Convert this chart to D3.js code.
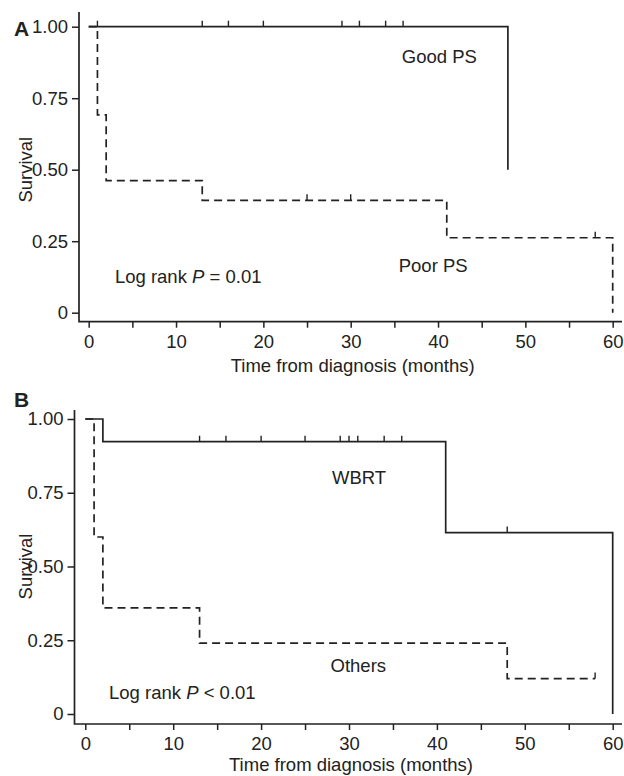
<!DOCTYPE html>
<html>
<head>
<meta charset="utf-8">
<script src="https://cdn.jsdelivr.net/npm/d3@7"></script>
<style>
  html, body { margin: 0; padding: 0; background: #fff; }
  svg text { font-family: "Liberation Sans", Arial, Helvetica, sans-serif; fill: #222; }
</style>
</head>
<body>
<div id="chart"></div>
<script>
// ---- data ----
const xTicks = [0, 5, 10, 15, 20, 25, 30, 35, 40, 45, 50, 55, 60];
const yTicks = [0, 0.25, 0.5, 0.75, 1];
const yTickLabels = ["0", "0.25", "0.50", "0.75", "1.00"];

// panel A: performance status
const goodPsTimes = [0, 48];
const goodPsSurv = [1, 0.5];
const goodPsCensor = [1, 13, 16, 20, 29, 31, 34, 36];
const poorPsTimes = [0, 1, 2, 13, 41, 60];
const poorPsSurv = [1, 0.692, 0.462, 0.393, 0.262, 0];
const poorPsCensor = [25, 30, 58];

// panel B: WBRT vs others
const wbrtTimes = [0, 2, 41, 60];
const wbrtSurv = [1, 0.923, 0.615, 0];
const wbrtCensor = [13, 16, 20, 25, 29, 30, 31, 34, 36, 48];
const othersTimes = [0, 1, 2, 13, 48, 58];
const othersSurv = [1, 0.6, 0.36, 0.24, 0.12, 0.12];
const othersCensor = [58];

const ink = "#222";
const fontSize = "18.5px";

const svg = d3.select("#chart")
  .append("svg")
  .attr("width", 624)
  .attr("height", 776);

// step lookup for censor marks
const survAt = (times, surv, t) => {
  let s = surv[0];
  times.forEach((tt, i) => { if (tt <= t) s = surv[i]; });
  return s;
};

const drawPanel = (p) => {
  const x = d3.scaleLinear().domain([0, 60]).range(p.xRange);
  const y = d3.scaleLinear().domain([0, 1]).range(p.yRange);
  const g = svg.append("g");

  // axis lines (L shape)
  g.append("path")
    .attr("d", `M${p.axisLeftX},${p.axisTop}V${p.axisBottomY}H${p.axisRight}`)
    .attr("fill", "none")
    .attr("stroke", ink)
    .attr("stroke-width", 1.7);

  const xAxis = g.append("g")
    .attr("transform", `translate(0,${p.axisBottomY})`)
    .call(d3.axisBottom(x).tickValues(xTicks).tickSize(6).tickPadding(7)
      .tickFormat(d => d % 10 === 0 ? d : ""));
  const yAxis = g.append("g")
    .attr("transform", `translate(${p.axisLeftX},0)`)
    .call(d3.axisLeft(y).tickValues(yTicks).tickSize(7).tickPadding(4)
      .tickFormat((d, i) => yTickLabels[i]));
  [xAxis, yAxis].forEach(a => {
    a.select(".domain").remove();
    a.selectAll("line").attr("stroke", ink).attr("stroke-width", 1.5);
    a.selectAll("text").style("font-size", fontSize).attr("fill", "#222");
  });

  const line = d3.line()
    .x(d => x(d[0]))
    .y(d => y(d[1]))
    .curve(d3.curveStepAfter);

  p.curves.forEach(c => {
    g.append("path")
      .datum(c.times.map((t, i) => [t, c.surv[i]]))
      .attr("d", line)
      .attr("fill", "none")
      .attr("stroke", ink)
      .attr("stroke-width", 1.7)
      .attr("stroke-dasharray", c.dashed ? "8,5" : null);

    g.selectAll(null)
      .data(c.censor)
      .enter()
      .append("line")
      .attr("x1", d => x(d))
      .attr("x2", d => x(d))
      .attr("y1", d => y(survAt(c.times, c.surv, d)))
      .attr("y2", d => y(survAt(c.times, c.surv, d)) - 6)
      .attr("stroke", ink)
      .attr("stroke-width", 1.4);
  });

  // labels
  g.append("text")
    .attr("x", 14).attr("y", p.letterY)
    .style("font-size", "21px").style("font-weight", "bold")
    .text(p.letter);

  g.append("text")
    .attr("transform", `translate(32,${y(0.5)}) rotate(-90)`)
    .attr("text-anchor", "middle")
    .style("font-size", fontSize)
    .text("Survival");

  g.append("text")
    .attr("x", (p.xRange[0] + p.xRange[1]) / 2 + 2)
    .attr("y", p.titleY)
    .attr("text-anchor", "middle")
    .style("font-size", fontSize)
    .text("Time from diagnosis (months)");

  p.notes.forEach(n => {
    const t = g.append("text")
      .attr("x", x(n.t)).attr("y", y(n.s))
      .style("font-size", fontSize);
    if (n.italic) {
      t.append("tspan").text(n.pre);
      t.append("tspan").style("font-style", "italic").text("P");
      t.append("tspan").text(n.post);
    } else {
      t.text(n.label);
    }
  });
};

drawPanel({
  letter: "A", letterY: 36,
  xRange: [88.7, 612.7], yRange: [312.7, 26.7],
  axisLeftX: 79, axisTop: 12, axisBottomY: 321.7, axisRight: 622,
  titleY: 372,
  curves: [
    { times: goodPsTimes, surv: goodPsSurv, censor: goodPsCensor, dashed: false },
    { times: poorPsTimes, surv: poorPsSurv, censor: poorPsCensor, dashed: true }
  ],
  notes: [
    { t: 35.85, s: 0.874, label: "Good PS" },
    { t: 35.5, s: 0.141, label: "Poor PS" },
    { t: 3.0, s: 0.103, italic: true, pre: "Log rank ", post: " = 0.01" }
  ]
});

drawPanel({
  letter: "B", letterY: 407,
  xRange: [85.3, 612.7], yRange: [714, 419],
  axisLeftX: 74.5, axisTop: 410, axisBottomY: 724, axisRight: 622,
  titleY: 771,
  curves: [
    { times: wbrtTimes, surv: wbrtSurv, censor: wbrtCensor, dashed: false },
    { times: othersTimes, surv: othersSurv, censor: othersCensor, dashed: true }
  ],
  notes: [
    { t: 28.07, s: 0.779, label: "WBRT" },
    { t: 27.9, s: 0.142, label: "Others" },
    { t: 2.7, s: 0.051, italic: true, pre: "Log rank ", post: " < 0.01" }
  ]
});
</script>
</body>
</html>
